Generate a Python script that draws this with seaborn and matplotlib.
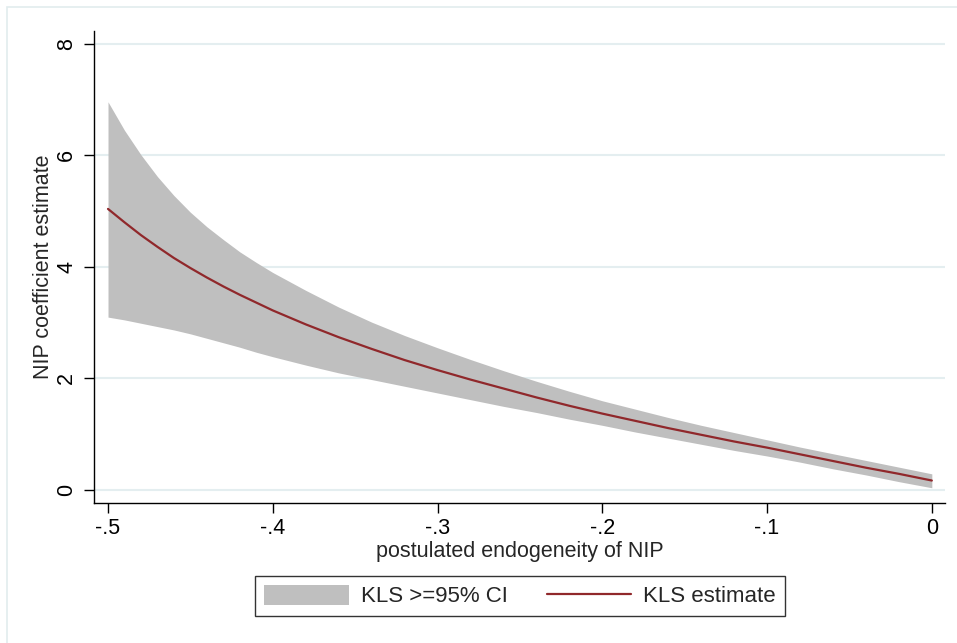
import numpy as np
import pandas as pd
import matplotlib
matplotlib.use("Agg")
import matplotlib.pyplot as plt
import seaborn as sns
from matplotlib.patches import Rectangle

# endogeneity values (x) and KLS estimate with its >=95% CI band
endog = [-0.50, -0.49, -0.48, -0.47, -0.46, -0.45, -0.44, -0.43, -0.42, -0.41,
         -0.40, -0.38, -0.36, -0.34, -0.32, -0.30, -0.28, -0.26, -0.24, -0.22,
         -0.20, -0.18, -0.16, -0.14, -0.12, -0.10, -0.08, -0.06, -0.04, -0.02, 0.00]
estimate = [5.04, 4.80, 4.57, 4.36, 4.16, 3.98, 3.81, 3.65, 3.50, 3.36,
            3.22, 2.97, 2.74, 2.53, 2.33, 2.15, 1.98, 1.82, 1.66, 1.51,
            1.37, 1.24, 1.11, 0.99, 0.87, 0.76, 0.64, 0.52, 0.40, 0.29, 0.17]
ci_upper = [6.96, 6.45, 6.01, 5.62, 5.28, 4.98, 4.72, 4.49, 4.27, 4.08,
            3.90, 3.58, 3.28, 3.01, 2.77, 2.55, 2.34, 2.14, 1.95, 1.77,
            1.60, 1.45, 1.30, 1.16, 1.03, 0.90, 0.77, 0.65, 0.53, 0.41, 0.29]
ci_lower = [3.10, 3.05, 2.99, 2.93, 2.87, 2.80, 2.72, 2.64, 2.56, 2.47,
            2.39, 2.24, 2.10, 1.98, 1.86, 1.74, 1.62, 1.50, 1.39, 1.27,
            1.16, 1.04, 0.93, 0.82, 0.71, 0.61, 0.50, 0.38, 0.27, 0.15, 0.04]

x_ticks = [-0.5, -0.4, -0.3, -0.2, -0.1, 0.0]
x_ticklabels = ["-.5", "-.4", "-.3", "-.2", "-.1", "0"]
y_ticks = [0, 2, 4, 6, 8]

df = pd.DataFrame({"endog": endog, "est": estimate, "lo": ci_lower, "hi": ci_upper})

sns.set_theme(style="white")
plt.rcParams["font.family"] = ["Liberation Sans", "DejaVu Sans"]

fig = plt.figure(figsize=(9.57, 6.43), dpi=100)
ax = fig.add_axes([94 / 957, 1 - 503 / 643, (945 - 94) / 957, (503 - 31) / 643])

band_col = "#bfbfbf"
line_col = "#90282b"
grid_col = "#e4eef0"

for yt in y_ticks:
    ax.axhline(yt, color=grid_col, lw=1.5, zorder=0)

ax.fill_between(df["endog"], df["lo"], df["hi"], color=band_col, lw=0,
                label="KLS >=95% CI", zorder=1)
sns.lineplot(data=df, x="endog", y="est", ax=ax, color=line_col, lw=1.6,
             label="KLS estimate", zorder=2)

ax.set_xlim(-0.5085, 0.008)
ax.set_ylim(-0.233, 8.23)
ax.set_xticks(x_ticks)
ax.set_xticklabels(x_ticklabels)
ax.set_yticks(y_ticks)
ax.set_yticklabels([str(v) for v in y_ticks], rotation=90, va="center")

for s in ["top", "right"]:
    ax.spines[s].set_visible(False)
for s in ["left", "bottom"]:
    ax.spines[s].set_color("black")
    ax.spines[s].set_linewidth(1.0)

ax.tick_params(axis="both", which="major", direction="out", length=7, width=1,
               color="black", labelsize=15.5, labelcolor="black", bottom=True, left=True)
ax.tick_params(axis="y", pad=5)
ax.tick_params(axis="x", pad=4)

ax.set_xlabel("postulated endogeneity of NIP", fontsize=15.5, labelpad=1)
ax.set_ylabel("NIP coefficient estimate", fontsize=15.5, labelpad=2)

ax.legend(loc="center", bbox_to_anchor=(520 / 957, 1 - 596 / 643),
          bbox_transform=fig.transFigure, ncol=2, frameon=True, fancybox=False,
          edgecolor="black", fontsize=16, handlelength=3.8, handleheight=1.05,
          handletextpad=0.55, columnspacing=1.75, borderpad=0.4)
ax.get_legend().get_frame().set_linewidth(1.0)

# faint outer frame like the Stata graph region
fig.add_artist(Rectangle((7 / 957, -0.05), 1.0, 1.05 - 7 / 643, fill=False,
                         edgecolor="#e2ecee", lw=1.2, transform=fig.transFigure))

fig.savefig("out.png", dpi=100)
